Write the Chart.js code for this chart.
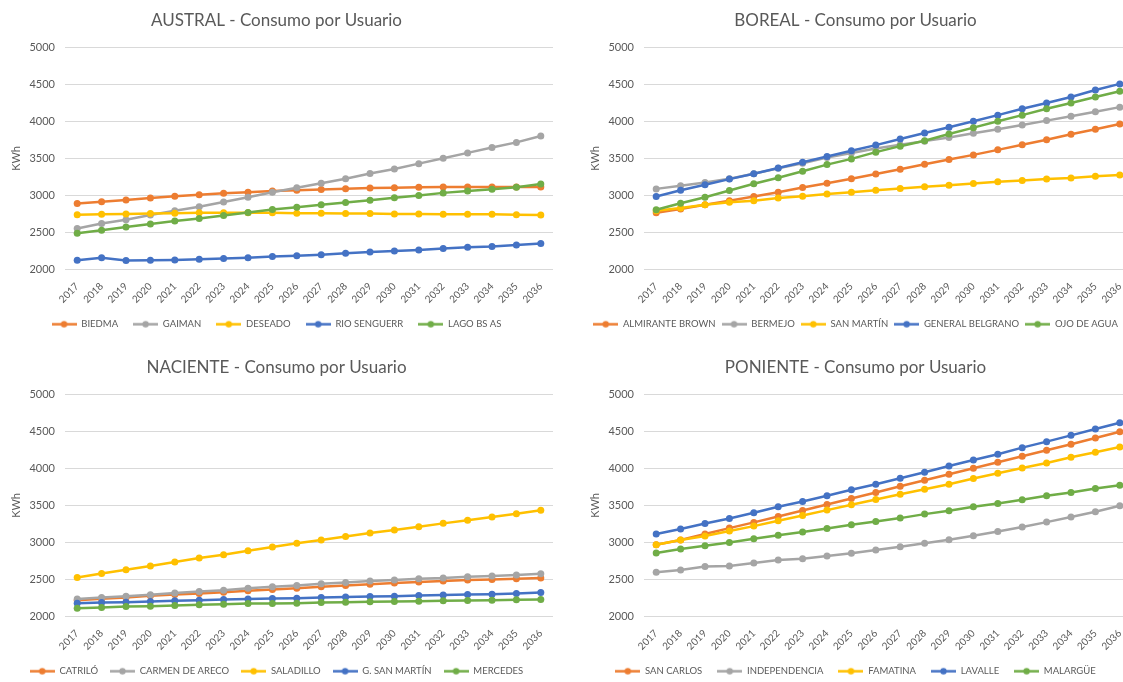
<!DOCTYPE html>
<html>
<head>
<meta charset="utf-8">
<script src="https://cdn.jsdelivr.net/npm/chart.js@4.4.1/dist/chart.umd.min.js"></script>
<style>
  body { margin: 0; background: #fff; width: 1123px; height: 682px; overflow: hidden; position: relative; }
  canvas { position: absolute; }
  #austral { left: 0; top: 0; }
  #boreal { left: 579px; top: 0; }
  #naciente { left: 0; top: 347px; }
  #poniente { left: 579px; top: 347px; }
</style>
</head>
<body>
<canvas id="austral" width="560" height="339"></canvas>
<canvas id="boreal" width="560" height="339"></canvas>
<canvas id="naciente" width="560" height="339"></canvas>
<canvas id="poniente" width="560" height="339"></canvas>
<script>
const years = ['2017', '2018', '2019', '2020', '2021', '2022', '2023', '2024', '2025', '2026',
  '2027', '2028', '2029', '2030', '2031', '2032', '2033', '2034', '2035', '2036']
const yTicks = [2000, 2500, 3000, 3500, 4000, 4500, 5000]
const colors = ['#ED7D31', '#A5A5A5', '#FFC000', '#4472C4', '#70AD47']

const australNames = ['BIEDMA', 'GAIMAN', 'DESEADO', 'RIO SENGUERR', 'LAGO BS AS']
const australBiedma = [2890, 2915, 2940, 2965, 2990, 3010, 3030, 3045, 3060, 3070, 3080, 3090, 3100, 3105, 3110, 3115, 3115, 3115, 3115, 3115]
const australGaiman = [2555, 2620, 2672, 2736, 2794, 2849, 2913, 2976, 3044, 3104, 3166, 3226, 3298, 3357, 3430, 3503, 3575, 3649, 3717, 3803]
const australDeseado = [2740, 2745, 2750, 2755, 2760, 2765, 2765, 2765, 2765, 2760, 2760, 2755, 2755, 2750, 2750, 2745, 2745, 2745, 2740, 2735]
const australRio = [2125, 2158, 2123, 2125, 2130, 2140, 2150, 2160, 2175, 2185, 2200, 2220, 2235, 2250, 2265, 2285, 2300, 2310, 2330, 2350]
const australLago = [2490, 2531, 2575, 2615, 2655, 2690, 2730, 2770, 2810, 2840, 2875, 2905, 2935, 2970, 3000, 3035, 3060, 3085, 3110, 3155]

const borealNames = ['ALMIRANTE BROWN', 'BERMEJO', 'SAN MARTÍN', 'GENERAL BELGRANO', 'OJO DE AGUA']
const borealBrown = [2767, 2817, 2876, 2930, 2985, 3044, 3108, 3166, 3226, 3289, 3353, 3421, 3485, 3548, 3616, 3684, 3752, 3826, 3894, 3966]
const borealBermejo = [3089, 3130, 3176, 3226, 3294, 3366, 3435, 3512, 3575, 3635, 3684, 3734, 3784, 3839, 3894, 3952, 4011, 4071, 4130, 4193]
const borealSanMartin = [2794, 2830, 2876, 2908, 2930, 2967, 2990, 3021, 3044, 3071, 3094, 3117, 3139, 3162, 3185, 3203, 3221, 3235, 3258, 3276]
const borealBelgrano = [2985, 3071, 3144, 3221, 3294, 3371, 3448, 3526, 3603, 3680, 3762, 3844, 3921, 4003, 4085, 4171, 4248, 4330, 4425, 4507]
const borealOjo = [2808, 2894, 2976, 3067, 3158, 3240, 3326, 3417, 3494, 3585, 3666, 3739, 3830, 3916, 4003, 4085, 4171, 4248, 4330, 4407]

const nacienteNames = ['CATRILÓ', 'CARMEN DE ARECO', 'SALADILLO', 'G. SAN MARTÍN', 'MERCEDES']
const nacienteCatrilo = [2221, 2239, 2257, 2280, 2298, 2311, 2329, 2347, 2365, 2383, 2401, 2419, 2437, 2451, 2465, 2478, 2492, 2501, 2510, 2519]
const nacienteCarmen = [2235, 2257, 2275, 2293, 2316, 2338, 2356, 2383, 2401, 2419, 2442, 2460, 2478, 2492, 2510, 2519, 2537, 2546, 2559, 2577]
const nacienteSaladillo = [2528, 2582, 2631, 2681, 2735, 2789, 2834, 2888, 2938, 2988, 3033, 3082, 3128, 3168, 3213, 3258, 3299, 3344, 3389, 3434]
const nacienteSanMartin = [2180, 2189, 2194, 2203, 2212, 2221, 2230, 2235, 2244, 2248, 2257, 2262, 2271, 2275, 2284, 2289, 2298, 2302, 2311, 2325]
const nacienteMercedes = [2113, 2122, 2135, 2140, 2149, 2158, 2167, 2176, 2176, 2180, 2189, 2194, 2198, 2203, 2207, 2212, 2216, 2221, 2225, 2230]

const ponienteNames = ['SAN CARLOS', 'INDEPENDENCIA', 'FAMATINA', 'LAVALLE', 'MALARGÜE']
const ponienteSanCarlos = [2970, 3033, 3114, 3194, 3271, 3351, 3432, 3513, 3594, 3675, 3760, 3841, 3922, 4003, 4083, 4164, 4245, 4326, 4411, 4496]
const ponienteIndependencia = [2597, 2629, 2674, 2682, 2723, 2763, 2781, 2817, 2853, 2898, 2943, 2988, 3037, 3091, 3149, 3208, 3275, 3343, 3414, 3495]
const ponienteFamatina = [2970, 3033, 3087, 3154, 3221, 3293, 3365, 3437, 3509, 3581, 3652, 3720, 3787, 3863, 3935, 4007, 4074, 4151, 4218, 4290]
const ponienteLavalle = [3114, 3181, 3257, 3325, 3401, 3482, 3554, 3630, 3711, 3787, 3868, 3949, 4034, 4115, 4191, 4281, 4362, 4447, 4532, 4618]
const ponienteMalargue = [2858, 2911, 2956, 3001, 3051, 3096, 3140, 3190, 3239, 3284, 3329, 3383, 3428, 3482, 3527, 3576, 3630, 3675, 3729, 3774]

const textColor = '#595959'
const fontFamily = 'Lato, "Open Sans", sans-serif'

// little line-with-marker icon, like the excel legend
function legendIcon(color) {
  const c = document.createElement('canvas')
  c.width = 25
  c.height = 9
  const ctx = c.getContext('2d')
  ctx.strokeStyle = color
  ctx.lineWidth = 2.5
  ctx.beginPath()
  ctx.moveTo(0, 4.5)
  ctx.lineTo(25, 4.5)
  ctx.stroke()
  ctx.fillStyle = color
  ctx.beginPath()
  ctx.arc(12.5, 4.5, 3.2, 0, Math.PI * 2)
  ctx.fill()
  return c
}

function getDatasets(names, series) {
  const datasets = []
  for (let i = 0; i < names.length; i++) {
    datasets.push({
      label: names[i],
      data: series[i],
      borderColor: colors[i],
      backgroundColor: colors[i],
      borderWidth: 2.5,
      pointRadius: 3.5,
      pointBorderWidth: 0,
      pointBackgroundColor: colors[i],
      tension: 0,
      order: names.length - i
    })
  }
  return datasets
}

// legendGap: excel squeezes the legend items differently in each chart
function drawChart(id, title, names, series, legendGap) {
  return new Chart(document.getElementById(id), {
    type: 'line',
    data: {
      labels: years,
      datasets: getDatasets(names, series)
    },
    options: {
      responsive: false,
      animation: false,
      devicePixelRatio: 1,
      layout: { padding: { left: 0, right: 7, top: 0, bottom: 0 } },
      scales: {
        x: {
          offset: true,
          grid: { display: false },
          border: { display: false },
          ticks: {
            color: textColor,
            font: { family: fontFamily, size: 10 },
            minRotation: 45,
            maxRotation: 45,
            autoSkip: false,
            padding: 3
          },
          afterFit: (axis) => { axis.height = 50 - legendGap }
        },
        y: {
          min: yTicks[0],
          max: yTicks[yTicks.length - 1],
          afterBuildTicks: (axis) => { axis.ticks = yTicks.map(v => ({ value: v })) },
          grid: { color: '#D9D9D9', drawTicks: false },
          border: { display: false },
          ticks: {
            color: textColor,
            font: { family: fontFamily, size: 11 },
            padding: 10,
            callback: (value) => String(value)
          },
          title: {
            display: true,
            text: 'KWh',
            color: textColor,
            font: { family: fontFamily, size: 11 },
            padding: { top: 10, bottom: 0 }
          },
          afterFit: (axis) => { axis.width = 65 }
        }
      },
      plugins: {
        title: {
          display: true,
          text: title,
          color: textColor,
          font: { family: fontFamily, size: 17, weight: 'normal' },
          padding: { top: 10, bottom: 17 }
        },
        legend: {
          position: 'bottom',
          labels: {
            color: textColor,
            font: { family: fontFamily, size: 9.5 },
            usePointStyle: true,
            pointStyleWidth: 25,
            padding: legendGap,
            sort: (a, b) => a.datasetIndex - b.datasetIndex,
            generateLabels: (chart) => {
              const items = Chart.defaults.plugins.legend.labels.generateLabels(chart)
              items.forEach(item => {
                item.pointStyle = legendIcon(colors[item.datasetIndex])
              })
              return items
            }
          }
        },
        tooltip: { enabled: false }
      }
    }
  })
}

drawChart('austral', 'AUSTRAL - Consumo por Usuario', australNames,
  [australBiedma, australGaiman, australDeseado, australRio, australLago], 15)
drawChart('boreal', 'BOREAL - Consumo por Usuario', borealNames,
  [borealBrown, borealBermejo, borealSanMartin, borealBelgrano, borealOjo], 6)
drawChart('naciente', 'NACIENTE - Consumo por Usuario', nacienteNames,
  [nacienteCatrilo, nacienteCarmen, nacienteSaladillo, nacienteSanMartin, nacienteMercedes], 12)
drawChart('poniente', 'PONIENTE - Consumo por Usuario', ponienteNames,
  [ponienteSanCarlos, ponienteIndependencia, ponienteFamatina, ponienteLavalle, ponienteMalargue], 15)
</script>
</body>
</html>
